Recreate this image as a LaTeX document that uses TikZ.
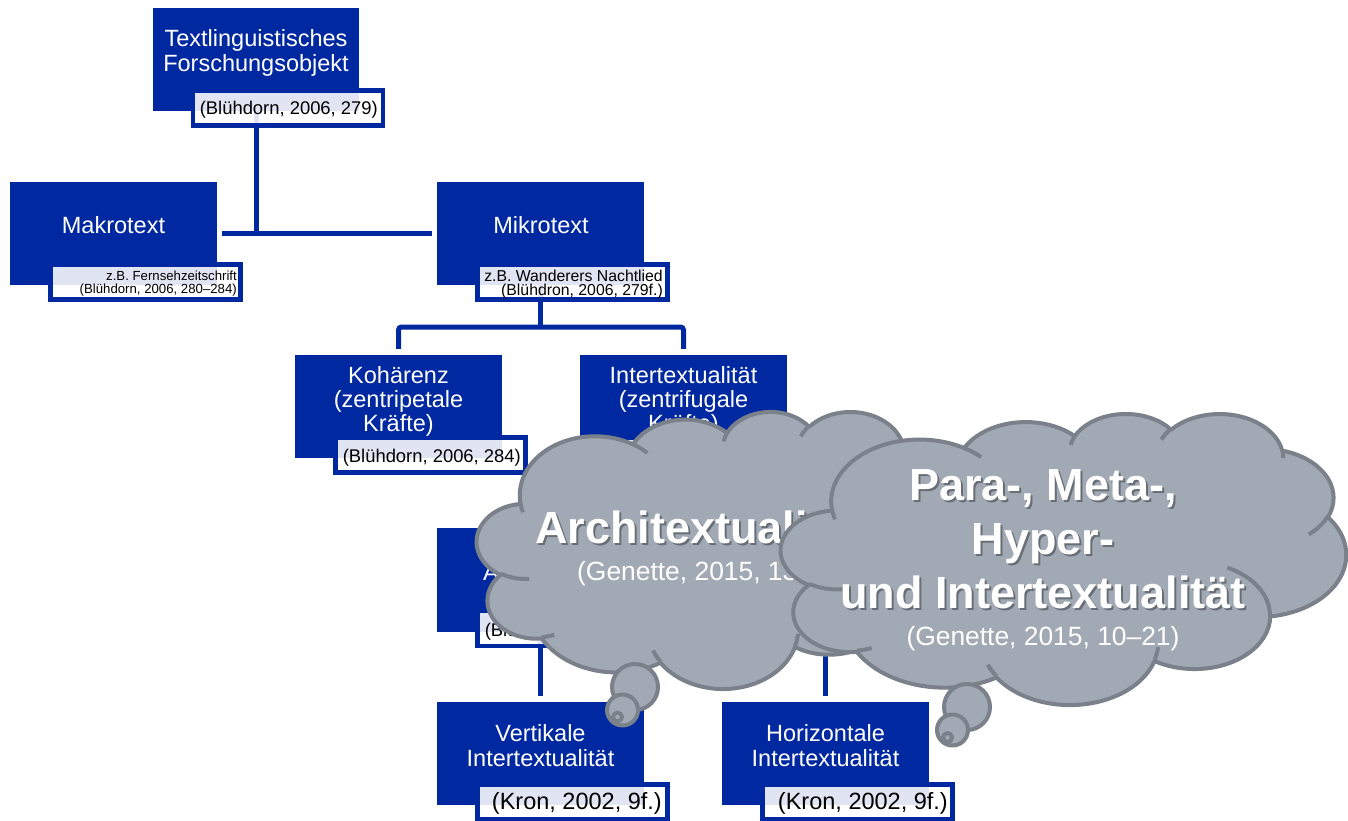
\documentclass[tikz,border=0pt]{standalone}
\usepackage{fontspec}
\setmainfont{Liberation Sans}
\definecolor{nodeblue}{RGB}{0,40,160}
\definecolor{cloudfill}{RGB}{161,170,180}
\definecolor{cloudline}{RGB}{122,129,138}

% outline of a thought cloud in a 432 x 432 frame (y pointing down)
\newcommand\cloudoutline{(39.00,143.70)
  arc[start angle=172.25, end angle=300.36, x radius=67.53, y radius=91.90]
  arc[start angle=207.98, end angle=314.57, x radius=53.33, y radius=72.67]
  arc[start angle=206.52, end angle=322.67, x radius=43.65, y radius=59.45]
  arc[start angle=220.30, end angle=349.79, x radius=48.57, y radius=65.95]
  arc[start angle=-74.77, end angle=23.21, x radius=53.33, y radius=72.73]
  arc[start angle=-37.53, end angle=81.86, x radius=67.75, y radius=92.20]
  arc[start angle=0.46, end angle=121.99, x radius=57.85, y radius=78.67]
  arc[start angle=16.85, end angle=146.26, x radius=67.52, y radius=92.15]
  arc[start angle=58.98, end angle=150.20, x radius=77.20, y radius=105.43]
  arc[start angle=83.31, end angle=223.11, x radius=43.60, y radius=59.18]
  arc[start angle=120.36, end angle=264.11, x radius=43.45, y radius=59.45]
  -- cycle}
% short creases where the bumps meet
\newcommand\cloudcreases{
  (46.93,261.77) arc[start angle=85.54, end angle=120.36, x radius=43.45, y radius=59.45]
  (69.28,348.99) arc[start angle=68.24, end angle=83.31, x radius=43.60, y radius=59.18]
  (164.78,390.90) arc[start angle=146.26, end angle=158.47, x radius=67.52, y radius=92.15]
  (288.27,347.51) arc[start angle=4.74, end angle=16.85, x radius=67.52, y radius=92.15]
  (341.29,229.54) arc[start angle=-64.03, end angle=0.46, x radius=57.85, y radius=78.67]
  (417.98,153.54) arc[start angle=23.21, end angle=49.63, x radius=53.33, y radius=72.73]
  (383.24,54.26) arc[start angle=-10.21, end angle=0.82, x radius=48.57, y radius=65.95]
  (290.78,39.52) arc[start angle=-156.29, end angle=-139.70, x radius=48.57, y radius=65.95]
  (221.41,47.20) arc[start angle=-167.73, end angle=-153.48, x radius=43.65, y radius=59.45]
  (140.00,51.92) arc[start angle=-59.64, end angle=-45.72, x radius=67.53, y radius=91.90]
  (41.27,157.89) arc[start angle=163.19, end angle=172.25, x radius=67.53, y radius=91.90]}

\tikzset{
  box/.style={rectangle, fill=nodeblue, draw=none, minimum width=207pt,
    minimum height=103pt, inner sep=0pt},
  tag/.style={rectangle, fill=white, fill opacity=0.88, draw=nodeblue,
    line width=4.5pt, minimum width=190pt, minimum height=35pt, inner sep=0pt},
  conn/.style={draw=nodeblue, line width=5pt},
  boxtext/.style={text=white, font=\fontsize{23.5}{28}\selectfont, anchor=base, inner sep=0pt},
  tagtext/.style={text=black, anchor=base east, inner sep=0pt},
  tagS/.style={tagtext, font=\fontsize{13.2}{15}\selectfont},
  tagM/.style={tagtext, font=\fontsize{15.8}{18}\selectfont},
  tagL/.style={tagtext, font=\fontsize{18.4}{21}\selectfont},
  tagXL/.style={tagtext, font=\fontsize{23.5}{27}\selectfont},
  cloudbody/.style={fill=cloudfill, draw=cloudline, line width=4pt, line join=round},
  crease/.style={draw=cloudline, line width=4pt},
  bigtext/.style={text=white, font=\fontsize{45}{54}\selectfont\bfseries, anchor=base, inner sep=0pt},
  bigshadow/.style={bigtext, text=black, text opacity=0.35},
  reftext/.style={text=white, font=\fontsize{26.4}{30}\selectfont, anchor=base, inner sep=0pt},
}

\begin{document}
\begin{tikzpicture}[x=1pt, y=-1pt]
\useasboundingbox (0,0) rectangle (1348,821);
\fill[white] (0,0) rectangle (1348,821);

% ---- boxes ----
\path
  (256,59.5) node[box, minimum width=206pt] (top) {}
  (113.5,233.5) node[box] (makro) {}
  (540.5,233.5) node[box] (mikro) {}
  (398.5,406.5) node[box] (koh) {}
  (683.5,406.5) node[box] (inter) {}
  (540.5,580) node[box] (abox) {}
  (825.5,580) node[box] (pbox) {}
  (540.5,753.5) node[box] (vert) {}
  (825.5,753.5) node[box] (horiz) {};

% ---- connectors ----
\coordinate (j1) at (top.south |- makro.east);
\coordinate (j2) at (540.5,327);
\coordinate (j3) at (683.5,500);
\draw[conn] (top.south) -- (j1);
\draw[conn] ([xshift=5pt]makro.east) -- ([xshift=-5pt]mikro.west);
\draw[conn] (mikro.south) -- (j2);
\draw[conn, rounded corners=3pt] ([yshift=6pt]koh.north) |- (j2) -| ([yshift=6pt]inter.north);
\draw[conn] (inter.south) -- (j3);
\draw[conn, rounded corners=3pt] ([yshift=6pt]abox.north) |- (j3) -| ([yshift=6pt]pbox.north);
\draw[conn] (abox.south) -- ([yshift=6pt]vert.north);
\draw[conn] (pbox.south) -- ([yshift=6pt]horiz.north);

% ---- boxes again, over the connector ends ----
\foreach \b in {top,makro,mikro,koh,inter,abox,pbox,vert,horiz}
  \fill[nodeblue] (\b.north west) rectangle (\b.south east);

% ---- citation tags ----
\node[tag] (toptag) at ([xshift=32pt,yshift=3pt]top.south) {};
\node[tag] (makrotag) at ([xshift=32pt,yshift=3pt]makro.south) {};
\node[tag] (mikrotag) at ([xshift=32pt,yshift=3pt]mikro.south) {};
\node[tag] (kohtag) at ([xshift=32pt,yshift=3pt]koh.south) {};
\node[tag] (intertag) at ([xshift=32pt,yshift=3pt]inter.south) {};
\node[tag] (atag) at ([xshift=32pt,yshift=3pt]abox.south) {};
\node[tag] (ptag) at ([xshift=32pt,yshift=3pt]pbox.south) {};
\node[tag] (verttag) at ([xshift=32pt,yshift=3pt]vert.south) {};
\node[tag] (horiztag) at ([xshift=32pt,yshift=3pt]horiz.south) {};

% ---- box texts ----
\node[boxtext] (top-a) at (256,47) {Textlinguistisches};
\node[boxtext] (top-b) at (256,72) {Forschungsobjekt};
\node[boxtext] (makro-a) at (113.5,233) {Makrotext};
\node[boxtext] (mikro-a) at (541,233) {Mikrotext};
\node[boxtext] (koh-a) at (398.5,383) {Kohärenz};
\node[boxtext] (koh-b) at (398.5,407) {(zentripetale};
\node[boxtext] (koh-c) at (398.5,431) {Kräfte)};
\node[boxtext] (inter-a) at (683.5,383) {Intertextualität};
\node[boxtext] (inter-b) at (683.5,407) {(zentrifugale};
\node[boxtext] (inter-c) at (683.5,431) {Kräfte)};
\node[boxtext, anchor=base west] (abox-a) at (483,580) {A};
\node[boxtext] (vert-a) at (540.5,741.5) {Vertikale};
\node[boxtext] (vert-b) at (540.5,766) {Intertextualität};
\node[boxtext] (horiz-a) at (825.5,741.5) {Horizontale};
\node[boxtext] (horiz-b) at (825.5,766) {Intertextualität};

% ---- tag texts ----
\node[tagL] (toptag-t) at (378,115) {(Blühdorn, 2006, 279)};
\node[tagS] (makrotag-a) at (237,280.5) {z.B. Fernsehzeitschrift};
\node[tagS] (makrotag-b) at (237,293) {(Blühdorn, 2006, 280–284)};
\node[tagM] (mikrotag-a) at (663,281) {z.B. Wanderers Nachtlied};
\node[tagM] (mikrotag-b) at (663,295) {(Blühdron, 2006, 279f.)};
\node[tagL] (kohtag-t) at (521,462.5) {(Blühdorn, 2006, 284)};
\node[tagL] (atag-t) at (663,636) {(Blühdorn, 2006, 285)};
\node[tagXL] (verttag-t) at (662,809.5) {(Kron, 2002, 9f.)};
\node[tagXL] (horiztag-t) at (948,809.5) {(Kron, 2002, 9f.)};

% ---- thought cloud: Architextualitaet ----
\begin{scope}[shift={(477,411)}, x=1.11343pt, y=-0.64120pt]
  \path[cloudbody] \cloudoutline;
  \path[crease] \cloudcreases;
\end{scope}
\draw[cloudbody] (635,687) circle[radius=23pt];
\draw[cloudbody] (622.5,710) circle[radius=15.5pt];
\draw[cloudbody] (617.5,717) circle[radius=4.5pt];
\node[bigshadow] (arch-s) at (701,545) {Architextualität};
\node[bigtext] (arch) at (699,543) {Architextualität};
\node[reftext] (arch-ref) at (699,580) {(Genette, 2015, 13f.)};

% ---- thought cloud: Para-, Meta-, Hyper- und Intertextualitaet ----
\begin{scope}[shift={(781,413)}, x=1.30787pt, y=-0.67361pt]
  \path[cloudbody] \cloudoutline;
  \path[crease] \cloudcreases;
\end{scope}
\draw[cloudbody] (967,707) circle[radius=23pt];
\draw[cloudbody] (952.5,730) circle[radius=15.5pt];
\draw[cloudbody] (947.5,737.5) circle[radius=4.5pt];
\node[bigshadow] (pm-s1) at (1045,502) {Para-, Meta-,};
\node[bigshadow] (pm-s2) at (1045,556) {Hyper-};
\node[bigshadow] (pm-s3) at (1045,610) {und Intertextualität};
\node[bigtext] (pm-1) at (1043,500) {Para-, Meta-,};
\node[bigtext] (pm-2) at (1043,554) {Hyper-};
\node[bigtext] (pm-3) at (1043,608) {und Intertextualität};
\node[reftext] (pm-ref) at (1043,645) {(Genette, 2015, 10–21)};
\end{tikzpicture}
\end{document}
